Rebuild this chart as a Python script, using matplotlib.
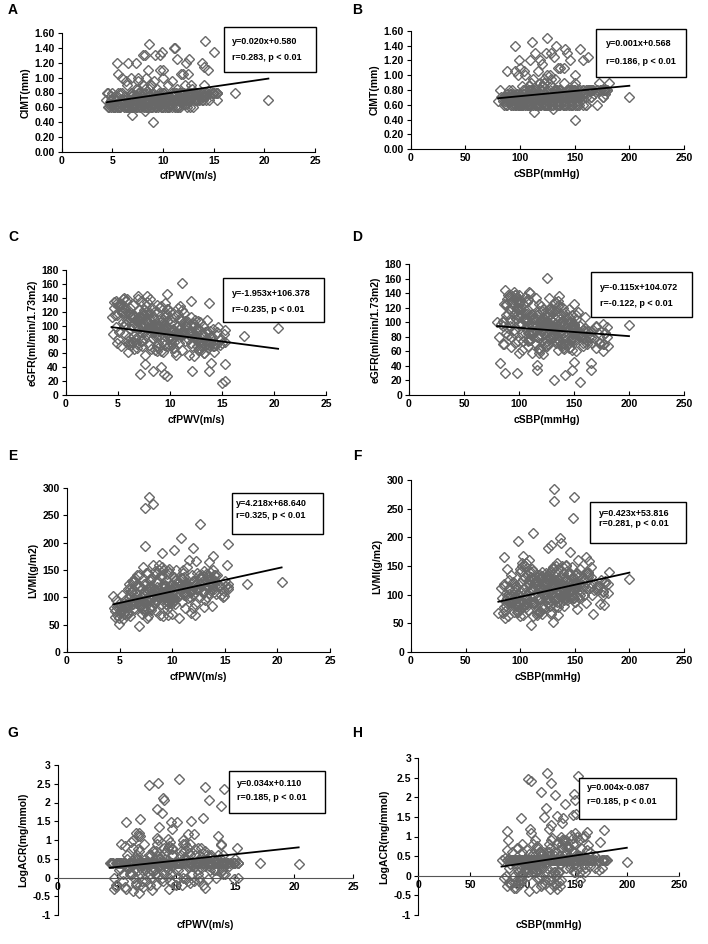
import numpy as np
import matplotlib.pyplot as plt
from matplotlib.patches import Rectangle

plt.rcParams['font.family'] = ['Liberation Sans', 'DejaVu Sans']
plt.rcParams['font.weight'] = 'bold'

# patient values (same patients in every panel)
cfpwv = [14.1, 8.6, 11.1, 11.2, 15.0, 9.9, 8.0, 8.2, 9.2, 9.7,
         11.4, 12.6, 13.8, 5.5, 6.5, 7.3, 8.5, 12.3, 14.0, 5.6,
         11.8, 12.0, 14.4, 6.0, 9.7, 10.0, 12.5, 7.5, 8.3, 9.1,
         6.3, 13.0, 15.3, 14.2, 14.8, 9.0, 6.9, 8.2, 20.4, 12.8,
         11.2, 15.0, 15.3, 15.3, 7.1, 9.7, 9.4, 8.4, 12.1, 13.8,
         14.0, 9.2, 7.6, 17.1, 15.2, 14.6, 13.3, 13.8, 12.0, 9.7,
         6.9, 7.8, 7.4, 8.2, 12.6, 10.8, 7.4, 12.0, 10.2, 9.0,
         13.9, 13.5, 11.6, 12.3, 9.6, 6.8, 4.9, 12.2, 13.0, 13.8,
         14.9, 15.3, 10.3, 8.5, 7.7, 12.5, 14.1, 8.9, 9.0, 12.8,
         13.8, 8.4, 8.8, 12.3, 7.0, 5.8, 9.6, 10.1, 11.3, 9.7,
         8.6, 13.6, 13.8, 11.0, 11.5, 6.6, 12.5, 14.9, 6.9, 6.4,
         9.4, 8.0, 10.6, 9.3, 4.4, 4.6, 4.8, 5.0, 5.2, 5.3,
         5.5, 5.7, 5.9, 6.0, 6.1, 6.2, 6.4, 6.5, 6.6, 6.7,
         6.8, 7.0, 7.1, 7.2, 7.3, 7.4, 7.5, 7.6, 7.7, 7.8,
         7.9, 8.0, 8.1, 8.2, 8.3, 8.4, 8.5, 8.6, 8.7, 8.8,
         8.9, 9.0, 9.1, 9.2, 9.3, 9.4, 9.5, 9.6, 9.8, 9.9,
         10.0, 10.1, 10.2, 10.3, 10.4, 10.5, 10.6, 10.7, 10.8, 10.9,
         11.0, 11.1, 11.2, 11.3, 11.4, 11.5, 11.6, 11.8, 11.9, 12.0,
         12.1, 12.2, 12.3, 12.4, 12.6, 12.7, 12.8, 12.9, 13.0, 13.1,
         13.2, 13.3, 13.4, 13.5, 13.6, 13.7, 13.9, 14.0, 14.2, 14.3,
         14.5, 5.1, 5.4, 5.8, 6.3, 6.9, 7.0, 7.6, 8.1, 8.8,
         9.4, 10.0, 10.9, 11.7, 4.5, 4.7, 4.9, 5.6, 6.2, 7.3,
         5.2, 6.1, 7.0, 7.9, 8.8, 9.7, 10.6, 11.5, 5.6, 6.5,
         7.4, 8.3, 9.2, 10.1, 11.0, 12.4, 4.8, 5.9, 6.8, 7.7,
         8.6, 9.5, 10.4, 11.3, 13.2, 5.4, 6.3, 7.2, 8.1, 9.0,
         9.9, 10.8, 12.0, 4.6, 5.7, 6.6, 7.5, 8.4, 9.3, 10.2,
         11.1, 12.7, 5.0, 6.0, 6.9, 7.8, 8.7, 9.6, 10.5, 11.6,
         13.6, 5.3, 6.2, 7.1, 8.0, 8.9, 9.8, 10.7, 12.2, 5.8,
         6.7, 7.6, 8.5, 9.4, 10.3, 11.4, 13.0, 4.9, 6.4, 7.3,
         8.2, 9.1, 10.0, 10.9, 11.9, 14.1, 5.5, 6.6, 7.5, 8.4,
         9.3, 10.2, 11.2, 12.5, 5.1, 6.0, 7.0, 7.9, 8.8, 9.7,
         10.6, 11.7, 13.4, 5.7, 6.8, 7.8, 8.6, 9.5, 10.4, 12.9]

csbp = [125, 111, 95, 133, 141, 155, 124, 128, 114, 143,
        131, 162, 158, 99, 118, 146, 137, 109, 120, 88,
        95, 104, 135, 127, 100, 140, 116, 105, 150, 122,
        112, 170, 180, 176, 166, 150, 113, 130, 200, 181,
        125, 155, 132, 165, 87, 142, 98, 116, 165, 148,
        150, 116, 83, 178, 163, 176, 176, 127, 136, 87,
        95, 131, 131, 149, 148, 112, 98, 137, 128, 125,
        146, 160, 103, 85, 167, 110, 130, 120, 177, 173,
        180, 136, 124, 153, 105, 108, 127, 118, 149, 131,
        150, 141, 123, 151, 148, 99, 121, 139, 133, 127,
        138, 162, 174, 178, 85, 107, 85, 82, 106, 133,
        113, 126, 158, 160, 90, 100, 84, 93, 108, 86,
        97, 115, 90, 103, 122, 92, 110, 135, 88, 100,
        125, 95, 118, 105, 140, 92, 128, 112, 100, 138,
        120, 96, 145, 108, 132, 90, 152, 118, 102, 140,
        125, 110, 135, 94, 148, 120, 105, 130, 142, 115,
        98, 128, 152, 108, 138, 122, 100, 145, 118, 132,
        155, 112, 140, 125, 102, 148, 130, 118, 160, 105,
        138, 150, 122, 135, 158, 112, 145, 128, 165, 140,
        118, 152, 132, 168, 125, 158, 142, 172, 135, 162,
        150, 112, 128, 105, 145, 100, 155, 90, 160, 98,
        165, 88, 170, 92, 120, 135, 104, 80, 150, 85,
        102, 130, 95, 148, 115, 88, 138, 122, 110, 152,
        98, 126, 141, 105, 133, 118, 92, 145, 108, 128,
        150, 100, 124, 137, 112, 86, 142, 118, 96, 134,
        158, 106, 127, 115, 140, 93, 120, 147, 103, 131,
        162, 114, 97, 136, 125, 109, 153, 91, 119, 144,
        130, 106, 148, 99, 122, 139, 113, 156, 128, 94,
        117, 143, 101, 134, 125, 160, 110, 89, 137, 121,
        146, 104, 132, 116, 151, 126, 96, 140, 111, 154,
        123, 99, 135, 145, 107, 129, 150, 92, 118, 142,
        103, 164, 124, 136, 114, 97, 149, 128, 108, 170]

cimt = [1.50, 1.45, 1.40, 1.40, 1.35, 1.35, 1.30, 1.30, 1.30, 1.30,
        1.25, 1.25, 1.20, 1.20, 1.20, 1.20, 1.10, 1.20, 1.15, 1.05,
        1.05, 1.05, 1.10, 1.00, 1.10, 1.10, 1.05, 1.00, 1.00, 0.95,
        0.95, 0.60, 0.80, 0.70, 0.80, 0.40, 0.50, 0.55, 0.70, 0.90,
        0.70, 0.80, 0.70, 0.80, 0.60, 0.70, 0.65, 0.60, 0.80, 0.70,
        0.75, 0.60, 0.70, 0.80, 0.80, 0.80, 0.70, 0.75, 0.70, 0.70,
        0.60, 0.70, 0.75, 0.80, 0.80, 0.70, 0.60, 0.80, 0.70, 0.65,
        0.80, 0.75, 0.70, 0.70, 0.80, 0.60, 0.60, 0.70, 0.80, 0.80,
        0.80, 0.80, 0.70, 0.80, 0.60, 0.70, 0.80, 0.65, 0.70, 0.80,
        0.80, 0.70, 0.60, 0.75, 0.60, 0.60, 0.70, 0.70, 0.80, 0.65,
        0.70, 0.80, 0.80, 0.75, 0.70, 0.60, 0.70, 0.80, 0.60, 0.60,
        0.70, 0.65, 0.75, 0.70, 0.70, 0.60, 0.65, 0.80, 0.60, 0.70,
        0.75, 0.60, 0.65, 0.80, 0.60, 0.70, 0.90, 0.60, 0.65, 0.70,
        1.00, 0.60, 0.70, 0.65, 0.75, 0.60, 0.95, 0.70, 0.60, 0.65,
        0.70, 0.75, 0.60, 0.85, 0.70, 0.65, 0.60, 0.75, 0.70, 0.90,
        0.60, 0.65, 0.70, 0.75, 0.60, 0.85, 0.70, 0.65, 0.60, 0.75,
        1.00, 0.70, 0.60, 0.70, 0.75, 0.90, 0.60, 0.70, 0.65, 0.95,
        0.70, 0.75, 0.60, 0.70, 0.85, 0.60, 0.75, 0.70, 0.80, 0.70,
        0.75, 0.90, 0.70, 0.65, 0.80, 0.70, 0.75, 0.85, 0.70, 0.75,
        0.80, 0.70, 0.80, 0.75, 0.70, 0.80, 0.70, 0.90, 0.75, 0.80,
        0.70, 0.60, 0.70, 0.80, 0.60, 0.75, 0.70, 0.80, 0.60, 0.60,
        0.70, 0.60, 0.80, 0.60, 0.80, 0.60, 0.75, 0.65, 0.70, 0.60,
        0.60, 0.70, 0.65, 0.80, 0.60, 0.75, 0.70, 0.60, 0.80, 0.65,
        0.70, 0.60, 0.75, 0.80, 0.70, 0.60, 0.65, 0.70, 0.80, 0.60,
        0.75, 0.70, 0.60, 0.80, 0.70, 0.65, 0.60, 0.75, 0.70, 0.80,
        0.60, 0.70, 0.65, 0.80, 0.60, 0.70, 0.85, 0.60, 0.75, 0.70,
        0.80, 0.60, 0.70, 0.65, 0.80, 0.60, 0.70, 0.75, 0.60, 0.80,
        0.70, 0.60, 0.75, 0.70, 0.90, 0.60, 0.80, 0.70, 0.65, 0.60,
        0.70, 0.80, 0.60, 0.75, 0.70, 0.60, 0.80, 0.70, 0.60, 0.85,
        0.70, 0.65, 0.80, 0.60, 0.70, 0.75, 0.60, 0.70, 0.80, 0.60,
        0.75, 0.70, 0.60, 0.80, 0.65, 0.70, 0.60, 0.75, 0.90, 0.70,
        0.60, 0.80, 0.70, 0.60, 0.75, 0.70, 0.85, 0.60, 0.70, 0.80]

egfr = [95, 100, 85, 90, 75, 80, 110, 95, 105, 88,
        92, 70, 78, 120, 115, 100, 96, 85, 82, 125,
        90, 75, 72, 118, 98, 86, 80, 102, 94, 100,
        112, 65, 93, 70, 72, 85, 105, 95, 96, 68,
        161, 18, 20, 44, 30, 27, 30, 35, 35, 34,
        46, 41, 44, 85, 88, 98, 60, 133, 136, 145,
        142, 95, 100, 90, 80, 88, 110, 85, 92, 100,
        75, 78, 98, 102, 90, 110, 115, 90, 70, 72,
        80, 76, 95, 90, 105, 85, 78, 100, 92, 80,
        76, 98, 102, 84, 110, 118, 96, 90, 88, 98,
        100, 74, 72, 86, 100, 112, 95, 80, 108, 115,
        95, 100, 90, 92, 112, 125, 98, 80, 132, 70,
        105, 88, 138, 62, 118, 95, 76, 130, 85, 108,
        68, 122, 92, 135, 78, 100, 115, 58, 128, 88,
        105, 72, 118, 95, 125, 82, 110, 65, 98, 120,
        75, 108, 90, 128, 62, 100, 85, 115, 70, 95,
        120, 80, 105, 68, 112, 90, 58, 100, 125, 75,
        95, 110, 65, 88, 118, 78, 102, 58, 92, 112,
        70, 98, 56, 108, 82, 95, 65, 105, 88, 72,
        100, 60, 90, 78, 108, 68, 92, 85, 62, 75,
        90, 90, 118, 102, 72, 138, 84, 92, 108, 130,
        78, 110, 95, 105, 88, 115, 75, 100, 125, 70,
        130, 84, 112, 96, 70, 124, 88, 106, 140, 76,
        118, 100, 64, 92, 128, 82, 136, 108, 74, 120,
        94, 132, 68, 104, 86, 126, 114, 78, 138, 98,
        72, 116, 90, 134, 102, 66, 122, 94, 110, 80,
        88, 106, 128, 74, 98, 142, 84, 118, 62, 100,
        92, 130, 76, 112, 96, 68, 124, 86, 104, 136,
        80, 108, 120, 72, 94, 88, 76, 132, 100, 116,
        66, 126, 84, 110, 92, 70, 138, 98, 82, 114,
        104, 74, 122, 90, 128, 78, 96, 118, 64, 106,
        86, 80, 72, 124, 100, 134, 88, 112, 76, 94]

lvmi = [120, 110, 105, 125, 130, 115, 95, 100, 120, 90,
        118, 135, 128, 80, 92, 108, 112, 125, 140, 85,
        110, 130, 120, 90, 105, 100, 118, 96, 115, 104,
        88, 112, 118, 106, 100, 110, 85, 102, 128, 140,
        110, 120, 125, 115, 80, 100, 95, 90, 130, 120,
        110, 100, 95, 124, 159, 104, 100, 115, 130, 90,
        85, 284, 263, 270, 234, 208, 193, 190, 187, 182,
        175, 165, 168, 166, 67, 47, 52, 67, 82, 84,
        103, 198, 120, 130, 100, 125, 140, 110, 118, 128,
        135, 115, 105, 122, 95, 85, 108, 112, 118, 104,
        110, 130, 125, 120, 118, 90, 115, 112, 85, 80,
        100, 95, 115, 112, 102, 75, 68, 90, 105, 60,
        95, 72, 125, 65, 110, 88, 130, 78, 100, 140,
        92, 115, 70, 155, 105, 85, 125, 62, 145, 98,
        118, 80, 135, 160, 90, 112, 75, 128, 150, 100,
        88, 140, 65, 120, 105, 132, 78, 148, 95, 125,
        70, 110, 138, 88, 150, 100, 62, 122, 135, 92,
        145, 108, 80, 128, 155, 98, 118, 72, 140, 105,
        130, 88, 115, 145, 100, 125, 138, 110, 148, 95,
        130, 118, 140, 108, 135, 125, 150, 115, 128, 140,
        120, 85, 70, 115, 95, 120, 100, 110, 85, 100,
        120, 95, 115, 100, 80, 95, 82, 68, 110, 78,
        78, 112, 95, 130, 68, 145, 102, 120, 88, 136,
        74, 108, 125, 92, 150, 115, 82, 98, 140, 66,
        118, 86, 132, 105, 142, 72, 128, 94, 115, 155,
        100, 135, 80, 64, 90, 122, 76, 148, 110, 96,
        138, 124, 70, 104, 86, 118, 160, 92, 128, 112,
        146, 84, 130, 100, 76, 138, 118, 106, 125, 70,
        96, 115, 142, 88, 132, 122, 110, 62, 98, 125,
        104, 150, 90, 135, 114, 130, 82, 108, 145, 95,
        120, 100, 126, 140, 74, 116, 88, 134, 106, 152,
        128, 112, 138, 85, 120, 102, 94, 142, 118, 108]

logacr = [0.4, 0.5, 0.3, 0.6, 0.4, 0.4, 0.2, 0.4, 0.7, 0.4,
          0.1, 0.4, 0.5, 0.4, 0.0, 0.4, 0.3, 0.4, 0.6, 0.4,
          0.2, 0.4, 0.4, 0.4, 0.8, 0.4, 0.3, 0.4, 0.5, 0.4,
          0.1, 0.4, 0.4, 0.4, 0.4, 0.4, 0.3, 0.4, 0.35, 0.4,
          0.4, 0.5, 0.0, 0.4, 0.2, 0.75, 0.4, 0.6, 0.25, 0.4,
          0.1, 0.3, 0.45, 0.4, 0.78, 0.4, 0.2, 0.9, 0.5, -0.15,
          0.7, -0.2, 0.5, 0.1, 0.6, 0.9, 0.3, -0.1, 0.4, 0.8,
          0.4, 0.2, 0.3, 0.65, 0.4, 0.2, -0.25, 0.55, 0.4, 0.15,
          0.4, 0.4, 2.62, 2.53, 2.47, 2.41, 2.37, 2.13, 2.08, 2.07,
          1.92, 1.82, 1.72, 1.58, 1.55, 1.47, 1.49, 1.47, 1.51, 1.30,
          1.35, 1.12, 0.87, 1.16, 1.15, 1.18, -0.27, -0.05, -0.40, -0.35,
          -0.30, -0.33, 1.00, 1.02, 0.4, 0.4, 0.0, 0.4, 0.2, 0.4,
          -0.1, 0.4, 0.6, 0.4, 0.1, 0.4, 0.8, 0.4, -0.2, 0.4,
          0.5, 0.4, 0.3, 0.4, 0.9, 0.4, -0.1, 0.4, 0.6, 0.4,
          0.2, 0.4, 0.7, 0.4, -0.2, 0.4, 1.0, 0.4, 0.3, 0.4,
          -0.1, 0.4, 0.5, 0.4, 0.8, 0.4, 0.1, 0.4, 0.6, 0.4,
          -0.2, 0.4, 0.2, 0.4, 0.7, 0.4, 0.0, 0.4, 0.5, 0.4,
          -0.1, 0.4, 0.9, 0.4, 0.3, 0.4, 0.6, 0.4, 0.1, 0.4,
          0.8, 0.4, -0.2, 0.4, 0.5, 0.4, 0.3, 0.4, 0.6, 0.4,
          0.2, 0.4, 0.0, 0.4, 0.6, 0.4, 0.2, 0.4, 0.1, 0.4,
          0.3, 0.4, 0.4, 0.3, 0.4, 0.4, 0.1, 0.4, 0.4, 0.0,
          0.4, 0.4, 0.5, 0.4, 0.4, 0.4, 0.4, 0.4, 0.4, 0.4,
          0.4, 0.1, -0.2, 0.6, 0.4, 0.3, 0.9, -0.1, 0.4, 0.5,
          0.2, 0.7, 0.4, 0.0, 0.8, 0.4, -0.3, 0.5, 1.1, 0.4,
          0.3, -0.1, 0.6, 0.4, 0.2, 0.9, 0.4, -0.25, 0.7, 0.1,
          0.4, 0.55, 0.0, 0.4, 0.85, -0.15, 0.35, 1.05, 0.2, 0.4,
          0.65, -0.05, 0.4, 0.3, 1.2, 0.1, 0.5, 0.4, -0.2, 0.75,
          0.4, 0.25, 0.95, -0.1, 0.45, 0.4, 0.15, 0.7, 0.4, -0.3,
          0.6, 0.4, 0.05, 0.85, 0.4, 0.3, 0.55, -0.2, 1.0, 0.4,
          0.2, 0.65, 0.4, -0.05, 0.8, 0.4, 0.1, 0.5, 0.4, 0.9,
          0.35, 0.4, -0.15, 0.7, 0.4, 0.25, 1.1, 0.0, 0.4, 0.6,
          0.15, 0.4, 0.45, -0.25, 0.75, 0.4, 0.3, 0.95, 0.4, 0.2]

# regression lines (slope, intercept) as drawn in each panel A..H
fit_slope = [0.020, 0.0014, -1.953, -0.115, 4.218, 0.423, 0.034, 0.004]
fit_icpt = [0.580, 0.577, 106.378, 104.072, 68.640, 53.816, 0.110, -0.087]

eq_text = ['y=0.020x+0.580', 'y=0.001x+0.568', 'y=-1.953x+106.378', 'y=-0.115x+104.072',
           'y=4.218x+68.640', 'y=0.423x+53.816', 'y=0.034x+0.110', 'y=0.004x-0.087']
r_text = ['r=0.283, p < 0.01', 'r=0.186, p < 0.01', 'r=-0.235, p < 0.01', 'r=-0.122, p < 0.01',
          'r=0.325, p < 0.01', 'r=0.281, p < 0.01', 'r=0.185, p < 0.01', 'r=0.185, p < 0.01']

tags = ['A', 'B', 'C', 'D', 'E', 'F', 'G', 'H']
ylabels = ['CIMT(mm)', 'CIMT(mm)', 'eGFR(ml/min/1.73m2)', 'eGFR(ml/min/1.73m2)',
           'LVMI(g/m2)', 'LVMI(g/m2)', 'LogACR(mg/mmol)', 'LogACR(mg/mmol)']
yvals = [cimt, cimt, egfr, egfr, lvmi, lvmi, logacr, logacr]
yticks = [[0, 0.2, 0.4, 0.6, 0.8, 1.0, 1.2, 1.4, 1.6]] * 2 + \
         [[0, 20, 40, 60, 80, 100, 120, 140, 160, 180]] * 2 + \
         [[0, 50, 100, 150, 200, 250, 300]] * 2 + \
         [[-1, -0.5, 0, 0.5, 1, 1.5, 2, 2.5, 3]] * 2

W, H = 708, 944
# axes extents in pixels: left, right, top, bottom
ext = [(61.7, 315, 33.3, 151.7), (410.7, 684, 30.7, 149.3),
       (65.7, 326, 270, 395), (409, 684, 264.3, 395),
       (67, 330, 488, 652), (411, 684, 480, 652),
       (57.7, 353, 765, 915), (418, 679, 758, 915)]
# annotation box: x1, x2, y1, y2, text x, line1 y, line2 y (pixels)
boxes = [(224, 316, 27, 72, 232, 41, 58), (596, 686, 29, 77, 606, 43, 62),
         (223, 324, 278, 322, 232, 293, 310), (591, 692, 272, 317, 600, 287, 304),
         (232, 323, 493, 534, 236, 504, 516), (590, 686, 502, 543, 599, 513, 524),
         (229, 325, 771, 813, 237, 784, 797), (579, 676, 778, 819, 587, 788, 801)]
tag_pos = [(13, 10), (357, 10), (13, 237), (357, 237), (13, 456), (357, 456), (13, 733), (357, 733)]

fig = plt.figure(figsize=(W / 100, H / 100), dpi=100)

for i in range(8):
    l, r, t, b = ext[i]
    ax = fig.add_axes([l / W, 1 - b / H, (r - l) / W, (b - t) / H])
    left = i % 2 == 0
    x = np.array(cfpwv if left else csbp, dtype=float)
    y = np.array(yvals[i], dtype=float)
    ax.plot(x, y, 'D', ms=5, mfc='none', mec='#686868', mew=1.0, clip_on=False)
    xs = np.array([x.min(), x.max()])
    ax.plot(xs, fit_slope[i] * xs + fit_icpt[i], color='black', lw=1.3)

    if left:
        ax.set_xlim(0, 25)
        ax.set_xticks([0, 5, 10, 15, 20, 25])
        ax.set_xlabel('cfPWV(m/s)', fontsize=7.5, weight='bold', labelpad=4)
    else:
        ax.set_xlim(0, 250)
        ax.set_xticks([0, 50, 100, 150, 200, 250])
        ax.set_xlabel('cSBP(mmHg)', fontsize=7.5, weight='bold', labelpad=4)
    yt = yticks[i]
    ax.set_ylim(yt[0], yt[-1])
    ax.set_yticks(yt)
    if i < 2:
        ax.set_yticklabels(['%.2f' % v for v in yt])
    else:
        ax.set_yticklabels(['%g' % v for v in yt])
    ax.set_ylabel(ylabels[i], fontsize=7.5, weight='bold', labelpad=3)

    for s in ['top', 'right']:
        ax.spines[s].set_visible(False)
    if i >= 6:
        ax.spines['bottom'].set_position(('data', 0))
        ax.xaxis.set_label_coords(0.5, -0.03)
        ax.spines['bottom'].set_color('#555555')
    ax.tick_params(axis='x', direction='in', length=3, labelsize=7.5, pad=3)
    ax.tick_params(axis='y', direction='out', length=3, labelsize=7.5, pad=2)
    for lab in ax.get_xticklabels() + ax.get_yticklabels():
        lab.set_fontweight('bold')

    x1, x2, y1, y2, tx, ty1, ty2 = boxes[i]
    fig.add_artist(Rectangle((x1 / W, 1 - y2 / H), (x2 - x1) / W, (y2 - y1) / H,
                             transform=fig.transFigure, facecolor='white',
                             edgecolor='black', lw=1.0))
    fig.text(tx / W, 1 - ty1 / H, eq_text[i], fontsize=6.5, weight='bold', va='center')
    fig.text(tx / W, 1 - ty2 / H, r_text[i], fontsize=6.5, weight='bold', va='center')
    fig.text(tag_pos[i][0] / W, 1 - tag_pos[i][1] / H, tags[i], fontsize=10,
             weight='bold', ha='center', va='center')

fig.savefig('out.png', dpi=100)
